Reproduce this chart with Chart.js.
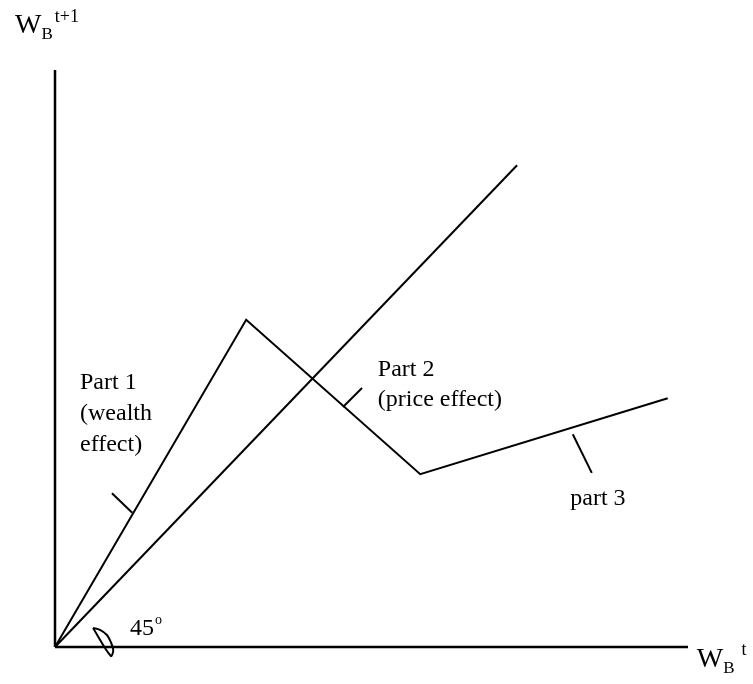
<!DOCTYPE html>
<html>
<head>
<meta charset="utf-8">
<script src="https://cdn.jsdelivr.net/npm/chart.js@4"></script>
<style>
  html, body { margin: 0; padding: 0; background: #fff; }
  #wrap { width: 753px; height: 684px; }
</style>
</head>
<body>
<div id="wrap"><canvas id="chart" width="753" height="684"></canvas></div>
<script>
// wealth next period vs wealth this period (arbitrary units)
const axisXEnd = 100;
const axisYEnd = 91.15;

const diagX = [0, 73.0];
const diagY = [0, 76.1];

const responseX = [0, 30.2, 57.7, 96.8];
const responseY = [0, 51.7, 27.3, 39.3];

// little pointer strokes from labels to the curve
const tick1X = [9.0, 12.2];
const tick1Y = [24.3, 21.2];
const tick2X = [45.5, 48.5];
const tick2Y = [37.9, 40.9];
const tick3X = [81.8, 84.8];
const tick3Y = [33.6, 27.5];

// 45 degree angle marker
const arcX = [6.0, 7.1, 8.2, 8.8, 9.2, 8.8, 6.0];
const arcY = [3.0, 2.7, 1.9, 0.8, -0.5, -1.4, 3.0];

const toPoints = (xs, ys) => xs.map((v, i) => ({ x: v, y: ys[i] }));

const lineSet = (xs, ys, extra) => Object.assign({
  data: toPoints(xs, ys),
  showLine: true,
  borderColor: '#000',
  borderWidth: 2,
  pointRadius: 0,
  fill: false,
  clip: false
}, extra || {});

const serif = '"Liberation Serif", "Times New Roman", serif';

// runs of text: size in px, rise in px (positive = up)
const notes = [
  { x: 3.95, y: 40.76, lines: ['Part 1', '(wealth', 'effect)'], size: 24, lead: 31 },
  { x: 51.0, y: 42.8, lines: ['Part 2', '(price effect)'], size: 24, lead: 30 },
  { x: 81.4, y: 22.4, lines: ['part 3'], size: 24, lead: 30 },
  { x: 11.85, y: 1.9, runs: [{ t: '45', size: 24, rise: 0 }, { t: 'o', size: 14, rise: 11, gap: 1 }] },
  { x: -6.32, y: 97.0, runs: [{ t: 'W', size: 28, rise: 0 }, { t: 'B', size: 17, rise: -6 }, { t: 't+1', size: 18, rise: 11, gap: 2 }] },
  { x: 101.4, y: -3.16, runs: [{ t: 'W', size: 28, rise: 0 }, { t: 'B', size: 17, rise: -6 }, { t: 't', size: 18, rise: 12, gap: 7 }] }
];

const textPlugin = {
  id: 'notes',
  afterDatasetsDraw(chart) {
    const { ctx, scales: { x, y } } = chart;
    ctx.save();
    ctx.fillStyle = '#000';
    ctx.textBaseline = 'alphabetic';
    ctx.textAlign = 'left';
    notes.forEach((n) => {
      const px = x.getPixelForValue(n.x);
      const py = y.getPixelForValue(n.y);
      if (n.lines) {
        ctx.font = `${n.size}px ${serif}`;
        n.lines.forEach((line, i) => ctx.fillText(line, px, py + i * n.lead));
      } else {
        let cx = px;
        n.runs.forEach((r) => {
          cx += r.gap || 0;
          ctx.font = `${r.size}px ${serif}`;
          ctx.fillText(r.t, cx, py - r.rise);
          cx += ctx.measureText(r.t).width;
        });
      }
    });
    ctx.restore();
  }
};

new Chart(document.getElementById('chart'), {
  type: 'scatter',
  data: {
    datasets: [
      lineSet([0, axisXEnd], [0, 0], { borderWidth: 2.5 }),
      lineSet([0, 0], [0, axisYEnd], { borderWidth: 2.5 }),
      lineSet(diagX, diagY),
      lineSet(responseX, responseY),
      lineSet(tick1X, tick1Y),
      lineSet(tick2X, tick2Y),
      lineSet(tick3X, tick3Y),
      lineSet(arcX, arcY, { tension: 0.35 })
    ]
  },
  options: {
    responsive: false,
    animation: false,
    layout: { padding: 0 },
    scales: {
      x: { type: 'linear', min: -8.69, max: 110.27, display: false },
      y: { type: 'linear', min: -5.845, max: 102.2, display: false }
    },
    plugins: {
      legend: { display: false },
      tooltip: { enabled: false }
    }
  },
  plugins: [textPlugin]
});
</script>
</body>
</html>
